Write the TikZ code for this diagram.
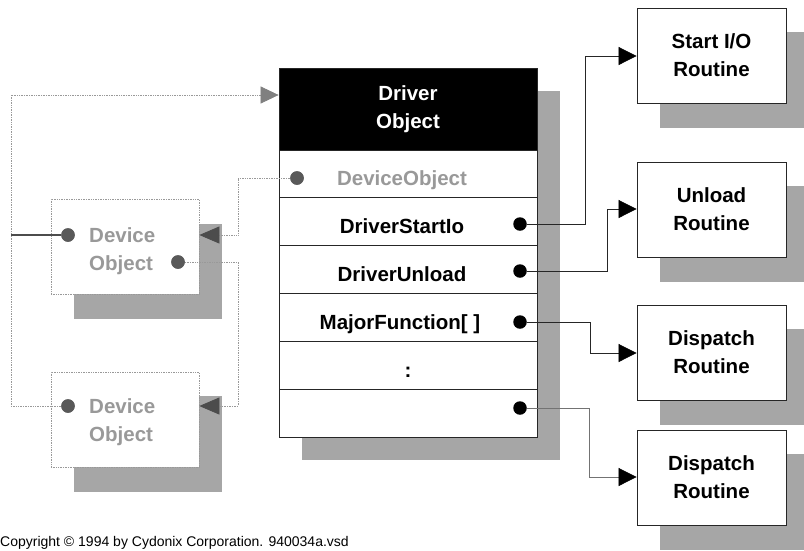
\documentclass[tikz,border=0pt]{standalone}
\usepackage{fontspec}
\setmainfont{Liberation Sans}
\usetikzlibrary{arrows.meta}
\begin{document}
\begin{tikzpicture}[x=1pt,y=-1pt,
 font=\fontsize{20.5}{28}\selectfont\bfseries,
 shadowfill/.style={fill=black!35, draw=none},
 mainbox/.style={draw=black!85, line width=0.8pt, fill=white, minimum width=258pt, inner sep=0pt},
 rowbox/.style={mainbox, minimum height=47.8pt},
 headbox/.style={mainbox, fill=black, text=white, minimum height=82pt, align=center},
 rtbox/.style={draw=black!85, line width=0.8pt, fill=white, minimum width=149pt, minimum height=95pt, align=center, inner sep=0pt},
 devbox/.style={draw=black!40, densely dotted, line width=0.7pt, fill=white, minimum width=148pt, minimum height=95pt, inner sep=0pt},
 devtext/.style={text=black!40, anchor=base west, inner sep=0pt},
 rowtext/.style={anchor=base, inner sep=0pt},
 bdot/.style={circle, fill=black, inner sep=0pt, minimum size=13.5pt},
 gdot/.style={circle, fill=black!65, inner sep=0pt, minimum size=13.5pt},
 link/.style={line width=0.7pt, draw=black!85},
 glink/.style={line width=0.7pt, draw=black!40, densely dotted},
 tipblack/.style={-{Triangle[length=18pt,width=18pt,fill=black,color=black]}},
 tipdark/.style={-{Triangle[length=20pt,width=17pt,fill=black!70,color=black!70]}},
 tipgray/.style={-{Triangle[length=18pt,width=17pt,fill=black!50,color=black!50]}},
]
\useasboundingbox (0,0) rectangle (804,550);

% ---- shadows ----
\fill[shadowfill] (302,91) rectangle (560,460);
\fill[shadowfill] (660,32) rectangle (804,128);
\fill[shadowfill] (660,186) rectangle (804,282);
\fill[shadowfill] (660,329) rectangle (804,425);
\fill[shadowfill] (660,454) rectangle (804,550);
\fill[shadowfill] (74,224) rectangle (222,319);
\fill[shadowfill] (74,396) rectangle (222,492);

% ---- driver object ----
\node[headbox] (head) at (408,109) {Driver\\Object};
\node[rowbox] (r1) at (408,174) {};
\node[rowbox] (r2) at (408,221.5) {};
\node[rowbox] (r3) at (408,269) {};
\node[rowbox] (r4) at (408,317) {};
\node[rowbox] (r5) at (408,365) {};
\node[rowbox] (r6) at (408,413) {};
\node[rowtext, text=black!40] (t1) at (402,185) {DeviceObject};
\node[rowtext] (t2) at (402,233) {DriverStartIo};
\node[rowtext] (t3) at (402,281) {DriverUnload};
\node[rowtext] (t4) at (400,329) {MajorFunction[ ]};
\node[rowtext] (t5) at (408,377) {:};

% ---- routines ----
\node[rtbox] (rt1) at (711.5,55.5) {Start I/O\\Routine};
\node[rtbox] (rt2) at (711.5,209.5) {Unload\\Routine};
\node[rtbox] (rt3) at (711.5,352.5) {Dispatch\\Routine};
\node[rtbox] (rt4) at (711.5,477.5) {Dispatch\\Routine};

% ---- device objects ----
\node[devbox] (dev1) at (125,246.5) {};
\node[devbox] (dev2) at (125,419.5) {};
\node[devtext] (dt1a) at (89,242) {Device};
\node[devtext] (dt1b) at (89,270) {Object};
\node[devtext] (dt2a) at (89,413) {Device};
\node[devtext] (dt2b) at (89,441) {Object};

% ---- dots ----
\node[bdot] (ds) at (520,224) {};
\node[bdot] (du) at (520,271) {};
\node[bdot] (dm) at (520,322) {};
\node[bdot] (dl) at (520,408) {};
\node[gdot] (gd) at (297,178) {};
\node[gdot] (ga1) at (68,235) {};
\node[gdot] (gb1) at (178,262) {};
\node[gdot] (ga2) at (68,406) {};

% ---- bend points ----
\coordinate (k1) at (585,56);
\coordinate (k2) at (607,209);
\coordinate (k3) at (590,353);
\coordinate (k4) at (589,477);
\coordinate (k5) at (238,235);
\coordinate (k6) at (238,406);
\coordinate (lt) at (11,95);
\coordinate (lb) at (11,406);

% ---- connectors to routines ----
\draw[link,tipblack] (ds) -| (k1) -- (k1 -| rt1.west);
\draw[link,tipblack] (du) -| (k2) -- (k2 -| rt2.west);
\draw[link,tipblack] (dm) -| (k3) -- (k3 -| rt3.west);
\draw[link,draw=black!55,tipblack] (dl) -| (k4) -- (k4 -| rt4.west);

% ---- device object links ----
\draw[glink,tipgray] (ga2) -- (lb) -- (lt) -- (lt -| head.west);
\draw[line width=1.6pt, black!70] (ga1) -- (ga1 -| lt);
\draw[glink,tipdark] (gd) -| (k5) -- (k5 -| dev1.east);
\draw[glink,tipdark] (gb1) -| (k6) -- (k6 -| dev2.east);

% redraw dots on top
\node[gdot] at (gd) {};
\node[gdot] at (ga1) {};
\node[gdot] at (gb1) {};
\node[gdot] at (ga2) {};

% ---- copyright ----
\node[font=\fontsize{14}{16}\selectfont, anchor=base west, inner sep=0pt] (copy) at (0,546) {Copyright © 1994 by Cydonix Corporation. 940034a.vsd};
\end{tikzpicture}
\end{document}
